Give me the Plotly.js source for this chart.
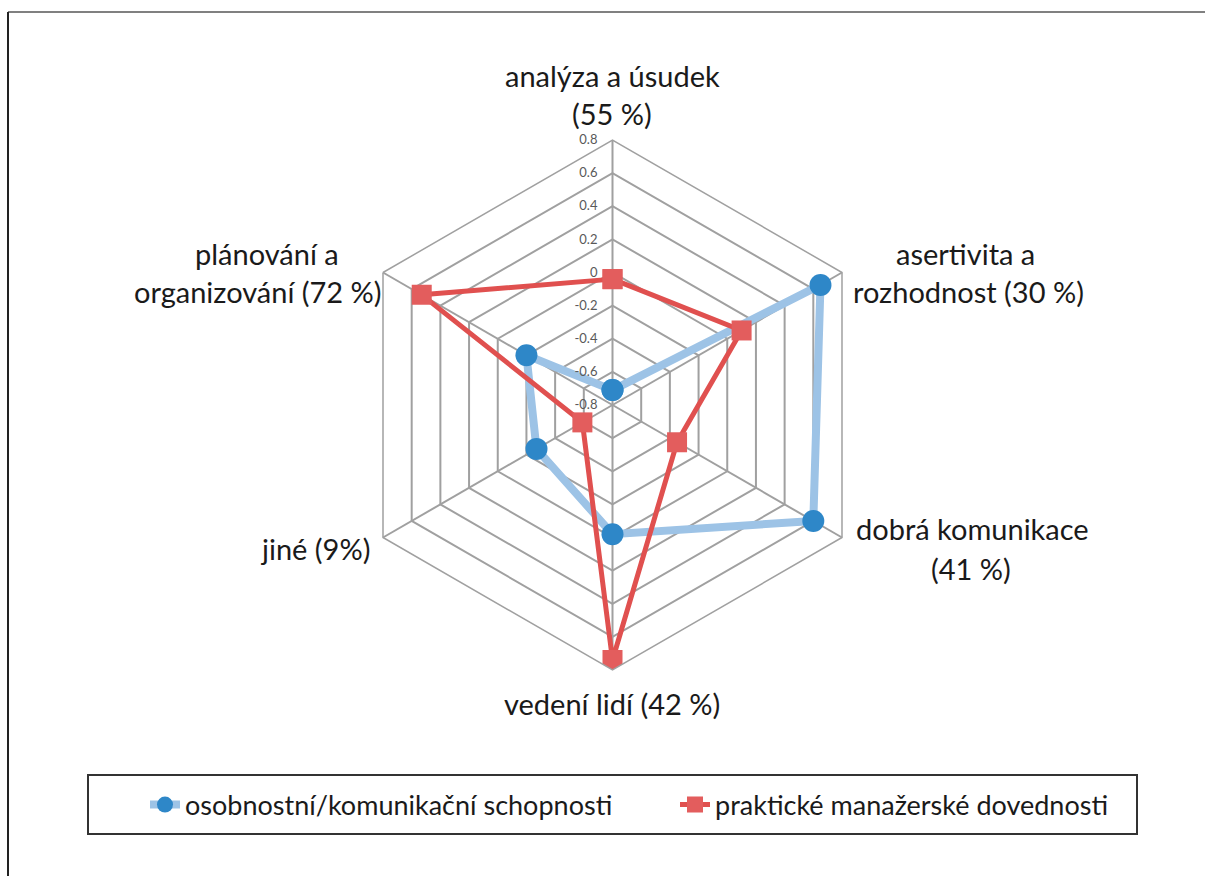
<!DOCTYPE html>
<html>
<head>
<meta charset="utf-8">
<script src="https://cdn.plot.ly/plotly-3.0.1.min.js"></script>
<style>html,body{margin:0;padding:0;background:#fff;}#chart{width:1205px;height:876px;}</style>
</head>
<body>
<div id="chart"></div>
<script>
// ---- data ----
const categories = [
  "analýza a úsudek (55 %)",
  "asertivita a rozhodnost (30 %)",
  "dobrá komunikace (41 %)",
  "vedení lidí (42 %)",
  "jiné (9%)",
  "plánování a organizování (72 %)"
];
const labelLines = [
  ["analýza a úsudek", "(55 %)"],
  ["asertivita a", "rozhodnost (30 %)"],
  ["dobrá komunikace", "(41 %)"],
  ["vedení lidí (42 %)"],
  ["jiné (9%)"],
  ["plánování a", "organizování (72 %)"]
];
const seriesNames = ["osobnostní/komunikační schopnosti", "praktické manažerské dovednosti"];
const osobnostni = [-0.71, 0.65, 0.60, -0.02, -0.27, -0.20];
const prakticke  = [-0.04, 0.10, -0.35, 0.74, -0.59, 0.53];
const radialTicks = [-0.8, -0.6, -0.4, -0.2, 0, 0.2, 0.4, 0.6, 0.8];
const radialTickText = ["-0.8", "-0.6", "-0.4", "-0.2", "0", "0.2", "0.4", "0.6", "0.8"];

// ---- layout helpers (positions in pixels) ----
const W = 1205, H = 876;
const px = x => x / W;
const py = y => 1 - y / H;
const labelPos = [
  [[612, 75], [612, 113]],
  [[965, 253], [968, 292]],
  [[972, 528], [971, 568]],
  [[612, 703]],
  [[315, 548]],
  [[267, 253], [258, 292]]
];
const FONT = "Lato, 'Open Sans', sans-serif";

const close = a => a.concat([a[0]]);
const theta = close(categories);

const traces = [
  {
    type: "scatterpolar",
    name: seriesNames[0],
    r: close(osobnostni),
    theta: theta,
    mode: "lines+markers",
    cliponaxis: true,
    line: {color: "#9DC3E6", width: 8},
    marker: {symbol: "circle", size: 22, color: "#2E87C8", line: {width: 0}}
  },
  {
    type: "scatterpolar",
    name: seriesNames[1],
    r: close(prakticke),
    theta: theta,
    mode: "lines+markers",
    cliponaxis: true,
    line: {color: "#E0504F", width: 5},
    marker: {symbol: "square", size: 20, color: "#E35D5D", line: {width: 0}}
  }
];

const annotations = [];
labelLines.forEach((lines, i) => {
  lines.forEach((t, j) => {
    annotations.push({
      text: t, xref: "paper", yref: "paper",
      x: px(labelPos[i][j][0]), y: py(labelPos[i][j][1]),
      xanchor: "center", yanchor: "middle", showarrow: false,
      font: {family: FONT, size: 29, color: "#1a1a1a"}
    });
  });
});

const gridColor = "#A0A0A0";
const layout = {
  width: W, height: H,
  margin: {l: 0, r: 0, t: 0, b: 0},
  paper_bgcolor: "#ffffff",
  font: {family: FONT, color: "#1a1a1a"},
  showlegend: true,
  polar: {
    domain: {x: [px(347.5), px(877.5)], y: [py(670), py(140)]},
    gridshape: "linear",
    bgcolor: "rgba(0,0,0,0)",
    angularaxis: {
      type: "category",
      categoryorder: "array",
      categoryarray: categories,
      rotation: 90,
      direction: "clockwise",
      showticklabels: false,
      ticks: "",
      showline: true,
      linecolor: gridColor,
      linewidth: 1.5,
      gridcolor: gridColor,
      gridwidth: 1.5
    },
    radialaxis: {
      range: [-0.8, 0.8],
      angle: 90,
      side: "counterclockwise",
      tickangle: 90,
      tickvals: radialTicks,
      ticktext: radialTickText,
      tickfont: {family: FONT, size: 13, color: "#595959"},
      ticks: "outside",
      ticklen: 10,
      tickcolor: "rgba(0,0,0,0)",
      showline: false,
      gridcolor: gridColor,
      gridwidth: 1.5
    }
  },
  legend: {
    orientation: "h",
    x: px(145), y: py(805),
    xanchor: "left", yanchor: "middle",
    font: {family: FONT, size: 27, color: "#1a1a1a"},
    bgcolor: "rgba(0,0,0,0)",
    borderwidth: 0,
    entrywidth: 485,
    itemclick: false
  },
  annotations: annotations,
  shapes: [
    {type: "line", xref: "paper", yref: "paper", x0: px(8), y0: py(12), x1: 1, y1: py(12), line: {color: "#808080", width: 2}},
    {type: "line", xref: "paper", yref: "paper", x0: px(8), y0: py(12), x1: px(8), y1: 0, line: {color: "#222222", width: 2}},
    {type: "rect", xref: "paper", yref: "paper", x0: px(88), y0: py(834), x1: px(1137), y1: py(775), line: {color: "#333333", width: 2}}
  ]
};

Plotly.newPlot("chart", traces, layout, {displayModeBar: false});
</script>
</body>
</html>
